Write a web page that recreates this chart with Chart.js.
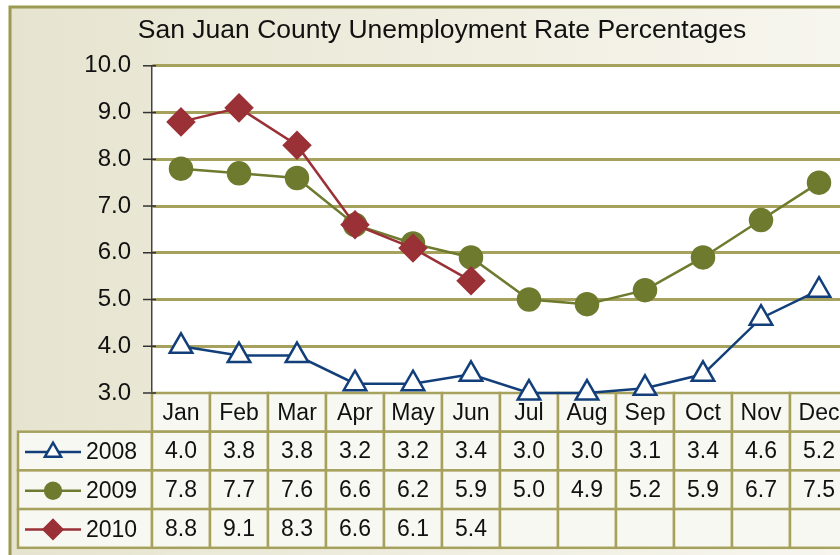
<!DOCTYPE html>
<html>
<head>
<meta charset="utf-8">
<script src="https://cdn.jsdelivr.net/npm/chart.js@4/dist/chart.umd.min.js"></script>
<style>
  html, body { margin: 0; padding: 0; background: #ffffff; overflow: hidden; }
  #wrap { width: 840px; height: 555px; overflow: hidden; position: relative; }
  canvas { display: block; }
</style>
</head>
<body>
<div id="wrap"><canvas id="chart" width="884" height="555"></canvas></div>
<script>
const months = ['Jan', 'Feb', 'Mar', 'Apr', 'May', 'Jun', 'Jul', 'Aug', 'Sep', 'Oct', 'Nov', 'Dec'];
const rate2008 = [4.0, 3.8, 3.8, 3.2, 3.2, 3.4, 3.0, 3.0, 3.1, 3.4, 4.6, 5.2];
const rate2009 = [7.8, 7.7, 7.6, 6.6, 6.2, 5.9, 5.0, 4.9, 5.2, 5.9, 6.7, 7.5];
const rate2010 = [8.8, 9.1, 8.3, 6.6, 6.1, 5.4, null, null, null, null, null, null];
const seriesNames = ['2008', '2009', '2010'];

const COLORS = {
    navy: '#123f7a',
    olive: '#6e7a2e',
    red: '#9a3137',
    grid: '#a6a25e',
    frame: '#9c9a52',
    cell: '#f8f8f2',
    ink: '#111111',
};
const FONT = '"Liberation Sans", Arial, sans-serif';
const ROW_H = 38.7;

const series = [
    { label: seriesNames[0], data: rate2008, color: COLORS.navy, style: 'triangle', radius: 13, fill: '#ffffff' },
    { label: seriesNames[1], data: rate2009, color: COLORS.olive, style: 'circle', radius: 11, fill: COLORS.olive },
    { label: seriesNames[2], data: rate2010, color: COLORS.red, style: 'rectRot', radius: 13, fill: COLORS.red },
];

// fondo beige con degradado y marco exterior
const backgroundPlugin = {
    id: 'background',
    beforeDraw(chart) {
        const { ctx, chartArea: a } = chart;
        ctx.save();
        const g = ctx.createLinearGradient(0, 0, chart.width, 0);
        g.addColorStop(0, '#e6e4cf');
        g.addColorStop(1, '#f8f7f0');
        ctx.fillStyle = g;
        ctx.fillRect(10, 7, chart.width - 20, chart.height);
        ctx.strokeStyle = COLORS.frame;
        ctx.lineWidth = 3;
        ctx.strokeRect(10, 7, chart.width - 20, chart.height + 10);
        ctx.fillStyle = '#ffffff';
        ctx.fillRect(a.left, a.top, a.right - a.left, a.bottom - a.top);
        ctx.restore();
    },
};

// tabla de datos bajo el eje x, con las claves de la leyenda
const dataTablePlugin = {
    id: 'dataTable',
    beforeDatasetsDraw(chart) {
        const { ctx, chartArea: a, scales: { x } } = chart;
        const colW = x.getPixelForValue(1) - x.getPixelForValue(0);
        const top = a.bottom;
        const rowLeft = 18;
        ctx.save();
        ctx.lineWidth = 2.5;
        ctx.strokeStyle = COLORS.grid;
        ctx.font = '23px ' + FONT;
        ctx.textBaseline = 'middle';

        // fila de meses
        months.forEach((m, i) => {
            const cx = x.getPixelForValue(i);
            ctx.fillStyle = COLORS.cell;
            ctx.fillRect(cx - colW / 2, top, colW, ROW_H);
            ctx.strokeRect(cx - colW / 2, top, colW, ROW_H);
            ctx.fillStyle = COLORS.ink;
            ctx.textAlign = 'center';
            ctx.fillText(m, cx, top + ROW_H / 2 + 1);
        });

        series.forEach((s, r) => {
            const y0 = top + ROW_H * (r + 1);
            const cy = y0 + ROW_H / 2 + 1;
            ctx.fillStyle = COLORS.cell;
            ctx.fillRect(rowLeft, y0, a.left - rowLeft, ROW_H);
            ctx.strokeRect(rowLeft, y0, a.left - rowLeft, ROW_H);
            // clave de leyenda
            ctx.save();
            ctx.strokeStyle = s.color;
            ctx.lineWidth = 2.5;
            ctx.beginPath();
            ctx.moveTo(25, cy);
            ctx.lineTo(81, cy);
            ctx.stroke();
            ctx.fillStyle = s.fill;
            Chart.helpers.drawPoint(ctx, { pointStyle: s.style, radius: s.radius * 0.72, borderWidth: 2.5, rotation: 0 }, 53, cy);
            ctx.restore();
            ctx.fillStyle = COLORS.ink;
            ctx.textAlign = 'left';
            ctx.fillText(s.label, 86, cy + 1);

            s.data.forEach((v, i) => {
                const cx = x.getPixelForValue(i);
                ctx.fillStyle = COLORS.cell;
                ctx.fillRect(cx - colW / 2, y0, colW, ROW_H);
                ctx.strokeRect(cx - colW / 2, y0, colW, ROW_H);
                if (v !== null) {
                    ctx.fillStyle = COLORS.ink;
                    ctx.textAlign = 'center';
                    ctx.fillText(v.toFixed(1), cx, cy);
                }
            });
        });

        // marcas del eje y
        const y = chart.scales.y;
        ctx.strokeStyle = '#333333';
        ctx.lineWidth = 1.5;
        y.ticks.forEach((t) => {
            const py = y.getPixelForValue(t.value);
            ctx.beginPath();
            ctx.moveTo(a.left - 9, py);
            ctx.lineTo(a.left + 4, py);
            ctx.stroke();
        });
        ctx.restore();
    },
};

new Chart(document.getElementById('chart'), {
    type: 'line',
    data: {
        labels: months,
        datasets: series.map((s, i) => ({
            label: s.label,
            data: s.data,
            borderColor: s.color,
            backgroundColor: s.fill,
            borderWidth: 2.5,
            pointStyle: s.style,
            pointRadius: s.radius,
            pointBorderWidth: 2.5,
            pointBorderColor: s.color,
            pointBackgroundColor: s.fill,
            tension: 0,
            spanGaps: false,
            clip: false,
            order: 2 - i,
        })),
    },
    options: {
        responsive: false,
        animation: false,
        layout: { padding: { left: 36, right: 36, bottom: 162 } },
        plugins: {
            legend: { display: false },
            tooltip: { enabled: false },
            title: {
                display: true,
                text: 'San Juan County Unemployment Rate Percentages',
                color: COLORS.ink,
                font: { family: FONT, size: 26.5, weight: 'normal', lineHeight: 1.2 },
                padding: { top: 15, bottom: 19 },
            },
        },
        scales: {
            x: { display: false, offset: true },
            y: {
                min: 3,
                max: 10,
                afterFit: (scale) => { scale.width = 116; },
                ticks: {
                    stepSize: 1,
                    padding: 21,
                    color: COLORS.ink,
                    font: { family: FONT, size: 24 },
                    callback: (v) => Number(v).toFixed(1),
                },
                grid: { color: COLORS.grid, lineWidth: 3, drawTicks: false },
                border: { display: true, color: '#444444', width: 1.5 },
            },
        },
    },
    plugins: [backgroundPlugin, dataTablePlugin],
});
</script>
</body>
</html>
